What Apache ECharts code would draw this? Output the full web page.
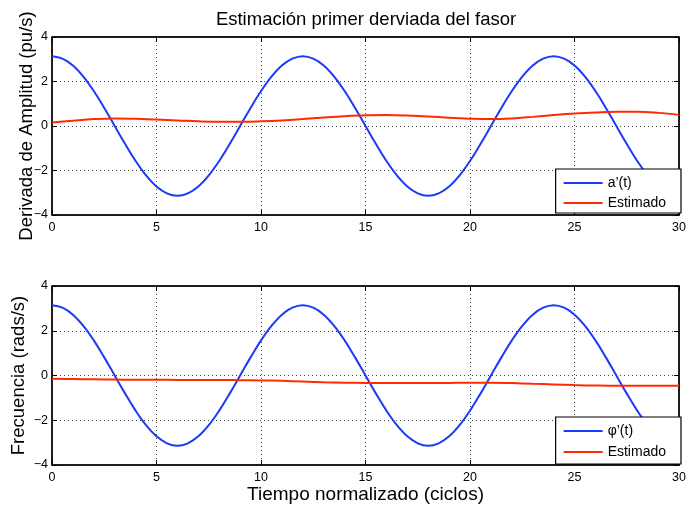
<!DOCTYPE html>
<html>
<head>
<meta charset="utf-8">
<script src="https://cdn.jsdelivr.net/npm/echarts@6/dist/echarts.min.js"></script>
<style>
html,body{margin:0;padding:0;background:#fff;}
#chart{width:689px;height:506px;}
</style>
</head>
<body>
<div id="chart"></div>
<script>
// time samples (ciclos)
const tFine = [0,0.5,1,1.5,2,2.5,3,3.5,4,4.5,5,5.5,6,6.5,7,7.5,8,8.5,9,9.5,10,10.5,11,11.5,12,12.5,13,13.5,14,14.5,15,15.5,16,16.5,17,17.5,18,18.5,19,19.5,20,20.5,21,21.5,22,22.5,23,23.5,24,24.5,25,25.5,26,26.5,27,27.5,28,28.5,29,29.5,30];
const tCoarse = [0,1,2,3,4,5,6,7,8,9,10,11,12,13,14,15,16,17,18,19,20,21,22,23,24,25,26,27,28,29,30];

// a'(t) (top, blue)
const ampDeriv = [3.14,3.03,2.72,2.22,1.57,0.81,0,-0.81,-1.57,-2.22,-2.72,-3.03,-3.14,-3.03,-2.72,-2.22,-1.57,-0.81,0,0.81,1.57,2.22,2.72,3.03,3.14,3.03,2.72,2.22,1.57,0.81,0,-0.81,-1.57,-2.22,-2.72,-3.03,-3.14,-3.03,-2.72,-2.22,-1.57,-0.81,0,0.81,1.57,2.22,2.72,3.03,3.14,3.03,2.72,2.22,1.57,0.81,0,-0.81,-1.57,-2.22,-2.72,-3.03,-3.14];
// estimated (top, red)
const ampEst = [0.16,0.24,0.31,0.34,0.33,0.29,0.25,0.21,0.19,0.19,0.21,0.25,0.31,0.38,0.44,0.48,0.49,0.47,0.43,0.37,0.33,0.31,0.34,0.41,0.49,0.56,0.61,0.64,0.64,0.59,0.50];

// phi'(t) (bottom, blue)
const freqDeriv = [3.14,3.03,2.72,2.22,1.57,0.81,0,-0.81,-1.57,-2.22,-2.72,-3.03,-3.14,-3.03,-2.72,-2.22,-1.57,-0.81,0,0.81,1.57,2.22,2.72,3.03,3.14,3.03,2.72,2.22,1.57,0.81,0,-0.81,-1.57,-2.22,-2.72,-3.03,-3.14,-3.03,-2.72,-2.22,-1.57,-0.81,0,0.81,1.57,2.22,2.72,3.03,3.14,3.03,2.72,2.22,1.57,0.81,0,-0.81,-1.57,-2.22,-2.72,-3.03,-3.14];
// estimated (bottom, red)
const freqEst = [-0.15,-0.16,-0.17,-0.18,-0.19,-0.19,-0.20,-0.20,-0.20,-0.21,-0.22,-0.24,-0.27,-0.30,-0.32,-0.33,-0.34,-0.34,-0.34,-0.33,-0.32,-0.32,-0.34,-0.37,-0.40,-0.43,-0.45,-0.46,-0.46,-0.46,-0.46];

const xTicks = [0,5,10,15,20,25,30];
const yTicks = [-4,-2,0,2,4];

const FONT = '"Liberation Sans", Arial, Helvetica, sans-serif';
const BLUE = '#1a3af8';
const RED = '#ff2a00';

const pairs = (xs, ys) => xs.map((x, i) => [x, ys[i]]);
const fmt = v => String(v).replace('-', '\u2212');

function xAx(grid, pos, labels, name) {
  return {
    type: 'value', gridIndex: grid, position: pos,
    min: xTicks[0], max: xTicks[xTicks.length - 1], interval: 5,
    axisLine: { show: true, onZero: false, lineStyle: { color: '#000', width: 1.5 } },
    axisTick: { show: true, inside: true, length: 5, lineStyle: { color: '#000' } },
    axisLabel: { show: labels, color: '#000', fontSize: 12.5, fontFamily: FONT, margin: 6 },
    splitLine: { show: labels, lineStyle: { color: '#444', type: [1, 3], width: 1 } },
    name: name || '', nameLocation: 'middle', nameGap: 20, nameMoveOverlap: false,
    nameTextStyle: { color: '#000', fontSize: 19, fontFamily: FONT }
  };
}
function yAx(grid, pos, labels, name, gap) {
  return {
    type: 'value', gridIndex: grid, position: pos,
    min: yTicks[0], max: yTicks[yTicks.length - 1], interval: 2,
    axisLine: { show: true, onZero: false, lineStyle: { color: '#000', width: 1.5 } },
    axisTick: { show: true, inside: true, length: 5, lineStyle: { color: '#000' } },
    axisLabel: { show: labels, color: '#000', fontSize: 12.5, fontFamily: FONT, margin: 4, formatter: fmt },
    splitLine: { show: labels, lineStyle: { color: '#444', type: [1, 3], width: 1 } },
    name: name || '', nameLocation: 'middle', nameGap: gap || 15, nameMoveOverlap: false,
    nameTextStyle: { color: '#000', fontSize: 18.5, fontFamily: FONT }
  };
}
function legendAt(top, names, gap, pad) {
  return {
    orient: 'vertical', right: 8, top: top,
    data: names, icon: 'rect', itemWidth: 39, itemHeight: 2, itemGap: gap,
    padding: pad,
    backgroundColor: '#fff', borderColor: '#000', borderWidth: 1.2, borderRadius: 0,
    selectedMode: false,
    textStyle: { color: '#000', fontSize: 14, fontFamily: FONT }
  };
}
function line(name, xi, yi, data, color) {
  return {
    name: name, type: 'line', xAxisIndex: xi, yAxisIndex: yi, data: data,
    showSymbol: false, smooth: 0.4, animation: false,
    lineStyle: { color: color, width: 2 }, itemStyle: { color: color }
  };
}

const chart = echarts.init(document.getElementById('chart'), null, { renderer: 'canvas' });
chart.setOption({
  backgroundColor: '#fff',
  animation: false,
  title: {
    text: 'Estimación primer derviada del fasor',
    left: 366, top: 10, textAlign: 'center', padding: 0,
    textStyle: { color: '#000', fontSize: 18.5, fontWeight: 'normal', fontFamily: FONT }
  },
  grid: [
    { left: 52, right: 8, top: 37, height: 178, show: true, borderColor: '#000', borderWidth: 1, backgroundColor: '#fff' },
    { left: 52, right: 8, top: 286, height: 179, show: true, borderColor: '#000', borderWidth: 1, backgroundColor: '#fff' }
  ],
  xAxis: [
    xAx(0, 'bottom', true),
    xAx(0, 'top', false),
    xAx(1, 'bottom', true, 'Tiempo normalizado (ciclos)'),
    xAx(1, 'top', false)
  ],
  yAxis: [
    yAx(0, 'left', true, 'Derivada de Amplitud (pu/s)', 16),
    yAx(0, 'right', false),
    yAx(1, 'left', true, 'Frecuencia (rads/s)', 24),
    yAx(1, 'right', false)
  ],
  legend: [
    legendAt(169, ['a’(t)', 'Estimado'], 6, [7, 15, 3, 8]),
    legendAt(417, ['φ’(t)', 'Estimado'], 7, [7, 15, 5, 8])
  ],
  series: [
    line('a’(t)', 0, 0, pairs(tFine, ampDeriv), BLUE),
    line('Estimado', 0, 0, pairs(tCoarse, ampEst), RED),
    line('φ’(t)', 2, 2, pairs(tFine, freqDeriv), BLUE),
    line('Estimado', 2, 2, pairs(tCoarse, freqEst), RED)
  ]
});
</script>
</body>
</html>
